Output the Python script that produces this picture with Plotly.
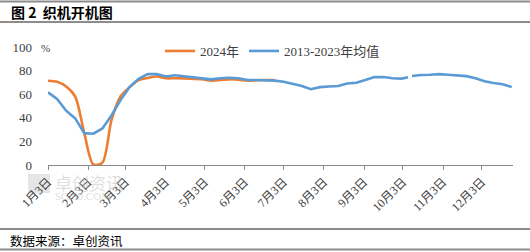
import plotly.graph_objects as go
import pandas as pd

# ---- data ----
weeks_2024 = [d.strftime("%Y-%m-%d") for d in pd.date_range("2024-01-03", periods=26, freq="7D")]
vals_2024 = [71.4, 70.5, 66.5, 58, 27, 0.5, 2, 38, 58, 66, 72, 73.8, 75, 73.5, 73.5, 73.4,
             73, 72.6, 71.5, 72, 72.6, 72.3, 71.5, 71.8, 72, 72]

avg_dates = [d.strftime("%Y-%m-%d") for d in pd.date_range("2024-01-03", periods=40, freq="7D")] + \
            ["2024-10-07", "2024-10-08"] + \
            [d.strftime("%Y-%m-%d") for d in pd.date_range("2024-10-10", periods=12, freq="7D")]
avg_vals = [61.6, 56, 46, 39.5, 27, 26.5, 31, 42, 55, 66, 73, 77, 77, 75, 76, 75,
            74.5, 73.5, 72.6, 73.5, 74, 73.5, 72, 72, 72, 71.5, 70.5, 68.5, 67, 64.2,
            66, 66.5, 67, 69, 69.7, 72, 74.5, 74.6, 73.5, 73.2,
            74.4, None,
            75.4, 76.3, 76.5, 77, 76.5, 76, 75.3, 73.5, 71, 69.5, 68.5, 66]

tick_dates = ["2024-%02d-03" % m for m in range(1, 13)]
tick_text = ["%d月3日" % m for m in range(1, 13)]
y_ticks = [0, 20, 40, 60, 80, 100]

FONT = "Liberation Serif, Noto Sans CJK SC, serif"
CJK = "Noto Sans CJK SC, sans-serif"

fig = go.Figure()
fig.add_trace(go.Scatter(x=weeks_2024, y=vals_2024, name="2024年", mode="lines",
                         line=dict(color="#ED7D31", width=2.6, shape="spline", smoothing=0.8)))
fig.add_trace(go.Scatter(x=avg_dates, y=avg_vals, name="2013-2023年均值", mode="lines",
                         connectgaps=False,
                         line=dict(color="#5B9BD5", width=2.6)))

L, T, W, H = 48, 47, 465, 118
def py(p):
    return (T + H - p) / H
def px(p):
    return (p - L) / W

shapes = []
for yy, w in [(1.5, 2), (22, 2), (229, 2), (249.5, 2)]:
    shapes.append(dict(type="line", xref="paper", yref="paper", x0=px(0), x1=px(530),
                       y0=py(yy), y1=py(yy), line=dict(color="#8C8C8C", width=w)))
# watermark logo square
shapes.append(dict(type="rect", xref="paper", yref="paper", x0=px(28), x1=px(50),
                   y0=py(193), y1=py(174), fillcolor="rgba(200,200,200,0.45)", line=dict(width=0),
                   layer="below"))

annotations = [
    dict(text="<b>图 2  织机开机图</b>", xref="paper", yref="paper", x=px(9), y=py(12),
         xanchor="left", yanchor="middle", showarrow=False, font=dict(family=CJK, size=14, color="#000")),
    dict(text="数据来源：卓创资讯", xref="paper", yref="paper", x=px(8), y=py(240),
         xanchor="left", yanchor="middle", showarrow=False, font=dict(family=CJK, size=12.5, color="#000")),
    dict(text="%", xref="paper", yref="paper", x=px(45), y=py(48),
         xanchor="center", yanchor="middle", showarrow=False, font=dict(family=FONT, size=11, color="#404040")),
    dict(text="卓创资讯", xref="paper", yref="paper", x=px(53), y=py(182),
         xanchor="left", yanchor="middle", showarrow=False,
         font=dict(family=CJK, size=17, color="rgba(190,190,190,0.5)")),
    dict(text="SCI99.COM", xref="paper", yref="paper", x=px(53), y=py(196),
         xanchor="left", yanchor="middle", showarrow=False,
         font=dict(family=FONT, size=11, color="rgba(190,190,190,0.5)")),
]

fig.update_layout(
    width=530, height=252,
    margin=dict(l=L, r=530 - L - W, t=T, b=252 - T - H),
    paper_bgcolor="white", plot_bgcolor="white",
    showlegend=True,
    legend=dict(orientation="h", x=px(160), y=py(51), xanchor="left", yanchor="middle",
                font=dict(family=FONT, size=13, color="#404040"), bgcolor="rgba(0,0,0,0)",
                itemwidth=30, tracegroupgap=0),
    shapes=shapes, annotations=annotations,
    font=dict(family=FONT, color="#404040"),
)
fig.update_xaxes(type="date", range=["2024-01-03", "2024-12-27"], tickmode="array",
                 tickvals=tick_dates, ticktext=tick_text, tickangle=-45,
                 showgrid=False, showline=True, linecolor="#898989", linewidth=1,
                 ticks="outside", ticklen=4, tickcolor="#898989", zeroline=False,
                 tickfont=dict(family=FONT, size=12, color="#404040"))
fig.update_yaxes(range=[0, 100], tickmode="array", tickvals=y_ticks, showgrid=False,
                 showline=False, zeroline=False, ticks="", ticklabelstandoff=15,
                 tickfont=dict(family=FONT, size=13, color="#404040"))

fig.write_html("out.html")
